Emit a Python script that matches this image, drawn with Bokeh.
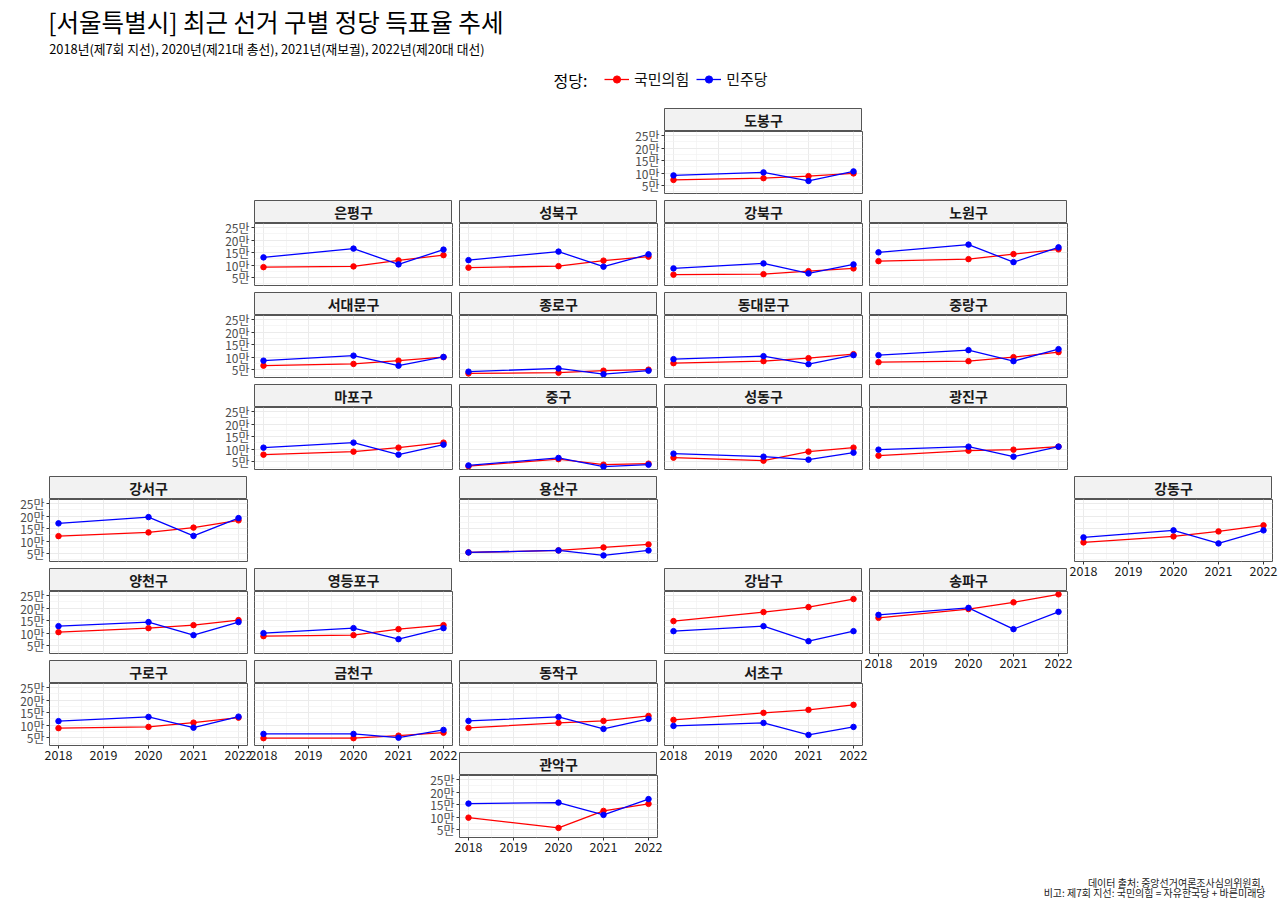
import math
from bokeh.plotting import figure
from bokeh.models import (GridBox, Range1d, FixedTicker, LinearAxis, Grid,
                          ColumnDataSource, Legend, LegendItem)
from bokeh.core.properties import value
from bokeh.embed import file_html
from bokeh.resources import INLINE

FONT = "Noto Sans CJK KR"

# ---------------- data ----------------
title_text = "[서울특별시] 최근 선거 구별 정당 득표율 추세"
subtitle_text = "2018년(제7회 지선), 2020년(제21대 총선), 2021년(재보궐), 2022년(제20대 대선)"
caption_lines = ["데이터 출처: 중앙선거여론조사심의위원회,",
                 "비고: 제7회 지선: 국민의힘 = 자유한국당 + 바른미래당"]
legend_title = "정당:"
parties = ["국민의힘", "민주당"]
party_colors = ["#FF0000", "#0000FF"]

years = [2018, 2020, 2021, 2022]
x_ticks = [2018, 2019, 2020, 2021, 2022]
x_tick_labels = ["2018", "2019", "2020", "2021", "2022"]
y_ticks = [5, 10, 15, 20, 25]
y_tick_labels = ["5만", "10만", "15만", "20만", "25만"]

districts = ["도봉구",
             "은평구", "성북구", "강북구", "노원구",
             "서대문구", "종로구", "동대문구", "중랑구",
             "마포구", "중구", "성동구", "광진구",
             "강서구", "용산구", "강동구",
             "양천구", "영등포구", "강남구", "송파구",
             "구로구", "금천구", "동작구", "서초구",
             "관악구"]
grid_row = [0,
            1, 1, 1, 1,
            2, 2, 2, 2,
            3, 3, 3, 3,
            4, 4, 4,
            5, 5, 5, 5,
            6, 6, 6, 6,
            7]
grid_col = [3,
            1, 2, 3, 4,
            1, 2, 3, 4,
            1, 2, 3, 4,
            0, 2, 5,
            0, 1, 3, 4,
            0, 1, 2, 3,
            2]

# votes in units of 만 (10,000) for 2018, 2020, 2021, 2022
ppp_votes = [[7.3, 8.0, 8.8, 9.9],
             [9.2, 9.5, 11.9, 14.0], [9.0, 9.6, 11.8, 13.4], [6.2, 6.4, 7.6, 8.7], [11.6, 12.4, 14.4, 16.3],
             [6.6, 7.3, 8.6, 10.0], [3.5, 3.8, 4.6, 5.0], [7.6, 8.4, 9.6, 11.2], [8.0, 8.4, 10.0, 12.0],
             [7.8, 9.0, 10.6, 12.6], [3.2, 6.0, 3.8, 4.2], [6.6, 5.4, 9.0, 10.6], [7.4, 9.4, 9.8, 11.0],
             [12.0, 13.5, 15.4, 18.3], [5.5, 6.3, 7.5, 8.7], [9.5, 11.9, 13.9, 16.3],
             [10.4, 12.0, 13.2, 15.2], [8.8, 9.2, 11.6, 13.2], [14.8, 18.4, 20.4, 23.6], [16.1, 19.6, 22.3, 25.5],
             [8.8, 9.3, 11.0, 13.0], [4.8, 4.8, 5.8, 7.0], [8.9, 10.9, 11.7, 13.7], [12.1, 14.9, 16.1, 18.1],
             [9.8, 5.7, 12.5, 15.3]]
dem_votes = [[9.1, 10.3, 6.9, 10.7],
             [13.1, 16.6, 10.3, 16.2], [12.0, 15.4, 9.4, 14.3], [8.7, 10.7, 6.7, 10.3], [15.1, 18.2, 11.2, 17.1],
             [8.6, 10.6, 6.6, 10.1], [4.2, 5.5, 3.2, 4.6], [9.2, 10.4, 7.2, 10.8], [10.8, 12.8, 8.4, 13.2],
             [10.6, 12.6, 7.8, 11.8], [3.5, 6.5, 3.0, 3.8], [8.2, 7.0, 5.8, 8.6], [9.8, 11.0, 7.0, 11.0],
             [17.1, 19.6, 12.1, 19.2], [5.5, 6.3, 4.3, 6.3], [11.5, 14.3, 9.1, 14.3],
             [12.8, 14.4, 9.2, 14.4], [10.0, 12.0, 7.6, 12.0], [10.8, 12.8, 6.8, 10.8], [17.3, 20.1, 11.6, 18.5],
             [11.6, 13.3, 9.0, 13.4], [6.5, 6.5, 5.0, 8.1], [11.7, 13.3, 8.5, 12.5], [9.7, 10.9, 6.1, 9.3],
             [15.4, 15.8, 10.9, 17.2]]

# ---------------- layout tracks ----------------
FRAME_W, FRAME_H = 198, 62
COLS = [13, 36]
for c in range(6):
    COLS += [169, 29, 7]
ROWS = [108]
for r in range(8):
    ROWS += [18, 5, 62, 25 if r == 7 else 7]
ROWS += [38]
TOTAL_W = sum(COLS)
LAST = len(ROWS) - 1          # caption track
BOTTOM_AXIS = LAST - 1        # track under the last row

all_vals = [v for s in ppp_votes + dem_votes for v in s]
lo, hi = min(all_vals), max(all_vals)
pad = 0.05 * (hi - lo)
y_lo, y_hi = lo - pad, hi + pad
xpad = 0.05 * (max(years) - min(years))
x_lo, x_hi = min(years) - xpad, max(years) + xpad

x_minor = [(a + b) / 2 for a, b in zip(x_ticks[:-1], x_ticks[1:])]
y_minor = [y_ticks[0] - 2.5] + [(a + b) / 2 for a, b in zip(y_ticks[:-1], y_ticks[1:])]

children = []

# caption (bottom, painted first, transparent)
cap_h = ROWS[BOTTOM_AXIS] + ROWS[LAST]
cap = figure(width=TOTAL_W, height=cap_h, x_range=Range1d(0, TOTAL_W),
             y_range=Range1d(cap_h, 0), x_axis_type=None, y_axis_type=None,
             output_backend="svg", toolbar_location=None, min_border=0,
             outline_line_color=None, background_fill_color=None, border_fill_color=None)
cap.text(x=[1270, 1272], y=[cap_h - 18, cap_h - 8], text=caption_lines, text_align="right",
         text_baseline="middle", text_font=value(FONT), text_font_size="10px", text_color="#222222")
children.append((cap, BOTTOM_AXIS, 0, 2, len(COLS)))

# header
hdr = figure(width=TOTAL_W, height=ROWS[0], x_range=Range1d(0, TOTAL_W), y_range=Range1d(ROWS[0], 0),
             x_axis_type=None, y_axis_type=None, output_backend="svg", toolbar_location=None,
             min_border=0, outline_line_color=None, background_fill_color=None, border_fill_color=None)
hdr.text(x=[48], y=[21], text=[title_text], text_font=value(FONT), text_font_size="24.5px",
         text_baseline="middle", text_color="black")
hdr.text(x=[49], y=[48], text=[subtitle_text], text_font=value(FONT), text_font_size="12.8px",
         text_baseline="middle", text_color="black")
hdr.text(x=[556], y=[79], text=[legend_title], text_font=value(FONT), text_font_size="16px",
         text_baseline="middle", text_color="black")
items = []
for name, col in zip(parties, party_colors):
    src = ColumnDataSource(data=dict(x=[math.nan], y=[math.nan]))
    rl = hdr.line("x", "y", source=src, line_color=col, line_width=1.3)
    rp = hdr.scatter("x", "y", source=src, color=col, size=5.5)
    items.append(LegendItem(label=name, renderers=[rl, rp]))
leg = Legend(items=items, orientation="horizontal", location=(604, 19), padding=0, margin=0,
             spacing=7, label_standoff=5, glyph_width=25, glyph_height=18,
             label_text_font=FONT, label_text_font_size="15px", label_text_color="#111111",
             border_line_color=None, background_fill_alpha=0)
hdr.add_layout(leg, "center")
children.append((hdr, 0, 0, 1, len(COLS)))

xr = Range1d(x_lo, x_hi)
yr = Range1d(y_lo, y_hi)

strips = []
panels = []
for i, name in enumerate(districts):
    r, c = grid_row[i], grid_col[i]
    has_y = c == min(grid_col[j] for j in range(len(districts)) if grid_row[j] == r)
    has_x = r == max(grid_row[j] for j in range(len(districts)) if grid_col[j] == c)

    # strip
    s = figure(width=FRAME_W, height=23, x_range=Range1d(0, 1), y_range=Range1d(0, 1),
               x_axis_type=None, y_axis_type=None, output_backend="svg", toolbar_location=None,
               min_border=0, background_fill_color="#F2F2F2", border_fill_color=None,
               outline_line_color="#555555", outline_line_width=1)
    s.text(x=[0.5], y=[0.5], text=[name], text_align="center", text_baseline="middle",
           text_font=value(FONT), text_font_size="14px", text_font_style="bold", text_color="#1A1A1A")
    strips.append((s, 1 + 4 * r, 2 + 3 * c, 2, 2))

    left = 36 if has_y else (7 if has_x else 0)
    right = 7
    top = 5
    bottom = 25 if has_x else 7
    p = figure(width=left + FRAME_W + right, height=top + FRAME_H + bottom, x_range=xr, y_range=yr,
               x_axis_type=None, y_axis_type=None, output_backend="svg", toolbar_location=None,
               min_border_left=left, min_border_right=right, min_border_top=top,
               min_border_bottom=bottom, background_fill_color="white", border_fill_color=None,
               outline_line_color="#555555", outline_line_width=1)
    p.add_layout(Grid(dimension=0, ticker=FixedTicker(ticks=x_ticks, minor_ticks=x_minor),
                      grid_line_color="#EBEBEB", grid_line_width=1,
                      minor_grid_line_color="#F2F2F2", minor_grid_line_width=0.7), "center")
    p.add_layout(Grid(dimension=1, ticker=FixedTicker(ticks=y_ticks, minor_ticks=y_minor),
                      grid_line_color="#EBEBEB", grid_line_width=1,
                      minor_grid_line_color="#F2F2F2", minor_grid_line_width=0.7), "center")
    if has_y:
        ya = LinearAxis(ticker=FixedTicker(ticks=y_ticks),
                        major_label_overrides=dict(zip(y_ticks, y_tick_labels)),
                        axis_line_color=None, major_tick_line_color="#333333", major_tick_out=3,
                        major_tick_in=0, minor_tick_line_color=None, major_label_standoff=2,
                        major_label_text_font=FONT, major_label_text_font_size="12px",
                        major_label_text_color="#4D4D4D")
        p.add_layout(ya, "left")
    if has_x:
        xa = LinearAxis(ticker=FixedTicker(ticks=x_ticks),
                        major_label_overrides=dict(zip(x_ticks, x_tick_labels)),
                        axis_line_color=None, major_tick_line_color="#333333", major_tick_out=3,
                        major_tick_in=0, minor_tick_line_color=None, major_label_standoff=1,
                        major_label_text_font=FONT, major_label_text_font_size="12.5px",
                        major_label_text_color="#1A1A1A")
        p.add_layout(xa, "below")

    src = ColumnDataSource(data=dict(year=years, ppp=ppp_votes[i], dem=dem_votes[i]))
    p.line("year", "ppp", source=src, line_color=party_colors[0], line_width=1.3)
    p.line("year", "dem", source=src, line_color=party_colors[1], line_width=1.3)
    p.scatter("year", "ppp", source=src, color=party_colors[0], size=5.5)
    p.scatter("year", "dem", source=src, color=party_colors[1], size=5.5)

    if has_y:
        c0 = 1 if c == 0 else 3 * c
    elif has_x:
        c0 = 3 * c + 1
    else:
        c0 = 2 + 3 * c
    c1 = 4 + 3 * c
    r0 = 2 + 4 * r
    r1 = min(5 + 4 * r, BOTTOM_AXIS) if has_x else (4 + 4 * r)
    panels.append((p, r0, c0, r1 - r0 + 1, c1 - c0 + 1))

children += strips + panels

layout = GridBox(children=children, rows=[f"{h}px" for h in ROWS], cols=[f"{w}px" for w in COLS],
                 spacing=0)

open("out.html", "w").write(file_html(layout, INLINE))
